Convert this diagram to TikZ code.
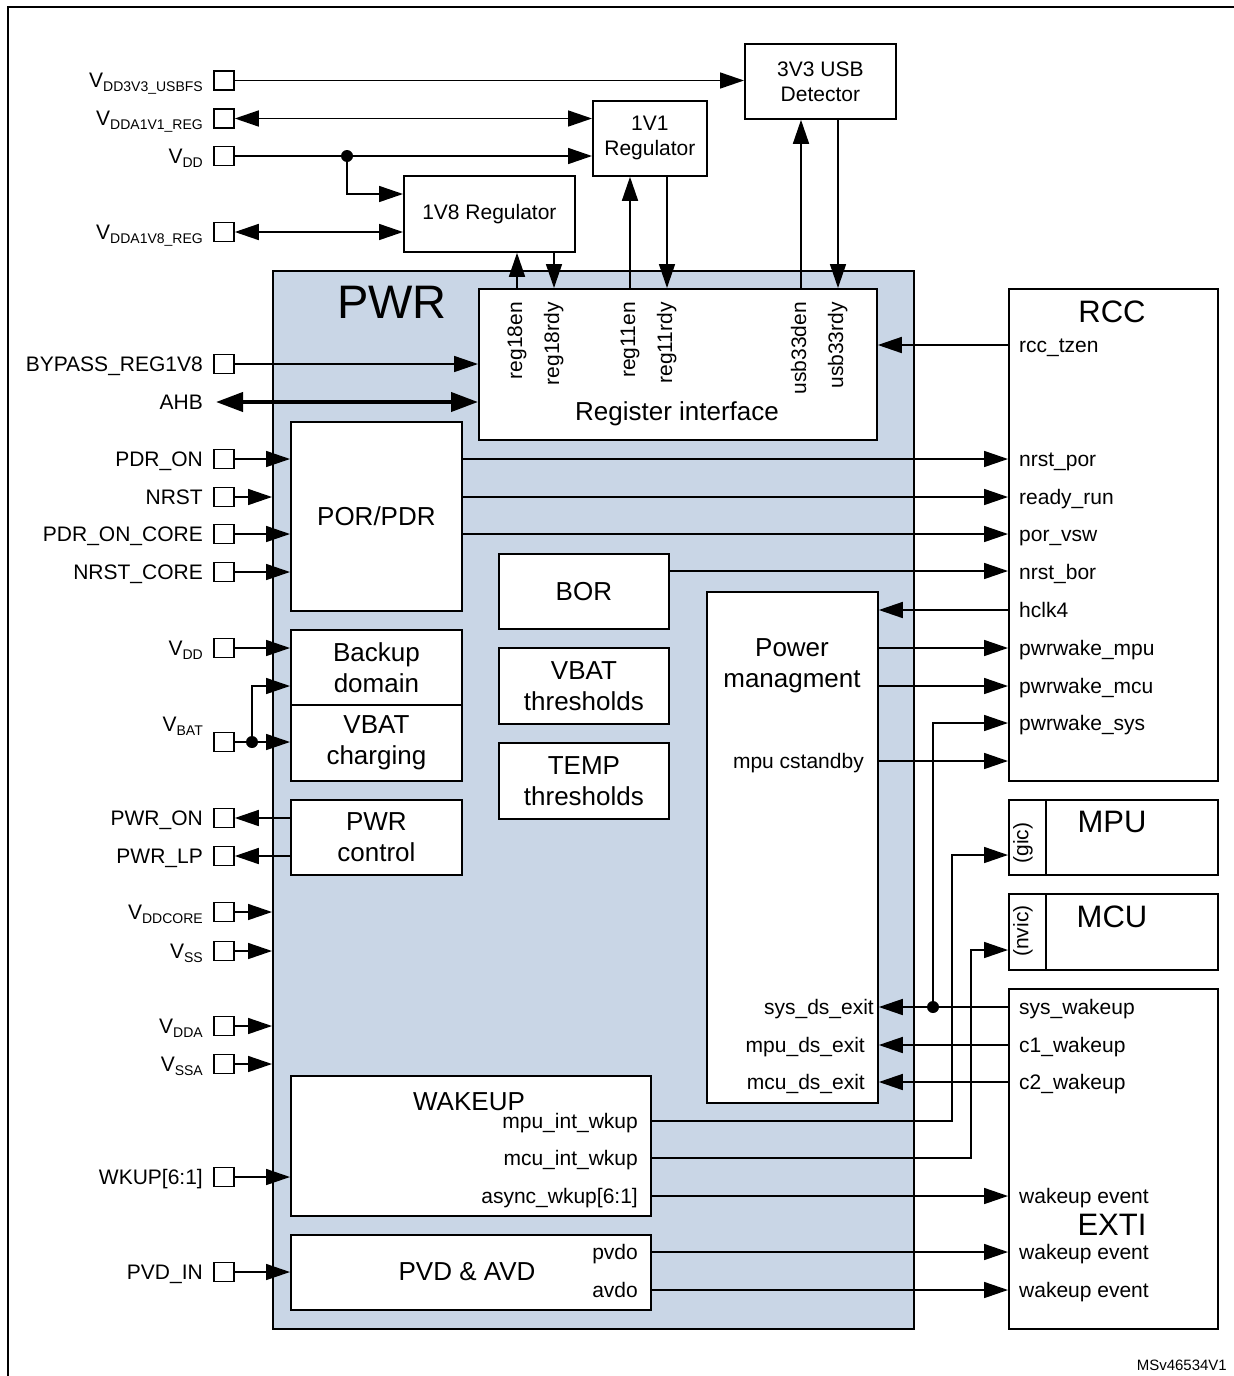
\documentclass[tikz,border=0pt]{standalone}
\usepackage{fontspec}
\setmainfont{Liberation Sans}
\usetikzlibrary{arrows.meta}
\definecolor{pwrblue}{RGB}{201,214,230}
\newcommand{\vsub}[1]{V\raisebox{-4pt}{\fontsize{14}{14}\selectfont #1}}
\begin{document}
\begin{tikzpicture}[x=1pt,y=1pt,
  blk/.style={draw,line width=1.8pt,fill=white,inner sep=0pt,anchor=north west},
  ln/.style={line width=1.6pt},
  tip/.style={-{Triangle[length=24pt,width=16pt]}},
  dtip/.style={{Triangle[length=24pt,width=16pt]}-{Triangle[length=24pt,width=16pt]}},
  ahbtip/.style={{Triangle[length=27pt,width=19pt]}-{Triangle[length=27pt,width=19pt]}},
  pin/.style={draw,line width=1.6pt,fill=white,minimum width=20pt,minimum height=19pt,inner sep=0pt},
  lbl/.style={inner sep=0pt,font=\fontsize{21}{25}\selectfont},
  ttl/.style={inner sep=0pt,align=center,font=\fontsize{26}{31}\selectfont},
  sttl/.style={inner sep=0pt,align=center,font=\fontsize{21}{25}\selectfont},
  bigt/.style={inner sep=0pt,font=\fontsize{31}{36}\selectfont},
  jdot/.style={circle,fill,inner sep=0pt,minimum size=12pt}]
\useasboundingbox (0,0) rectangle (1234,-1376);
\fill[white] (0,0) rectangle (1234,-1376);
\draw[line width=2.2pt] (8,-1390) -- (8,-7) -- (1250,-7);

% ---------- blocks ----------
\node[blk,fill=pwrblue,minimum width=641pt,minimum height=1058pt] (pwr) at (272,-270) {};
\node[blk,minimum width=151pt,minimum height=75pt] (usb) at (744,-43) {};
\node[blk,minimum width=114pt,minimum height=75pt] (r11) at (592,-100) {};
\node[blk,minimum width=171pt,minimum height=76pt] (r18) at (403,-175) {};
\node[blk,minimum width=398pt,minimum height=151pt] (reg) at (478,-288) {};
\node[blk,minimum width=171pt,minimum height=189pt] (por) at (290,-421) {};
\node[blk,minimum width=171pt,minimum height=75pt] (bkp) at (290,-629) {};
\node[blk,minimum width=171pt,minimum height=76pt] (vch) at (290,-704) {};
\node[blk,minimum width=171pt,minimum height=75pt] (pct) at (290,-799) {};
\node[blk,minimum width=170pt,minimum height=75pt] (bor) at (498,-553) {};
\node[blk,minimum width=170pt,minimum height=76pt] (vth) at (498,-647) {};
\node[blk,minimum width=170pt,minimum height=76pt] (tth) at (498,-742) {};
\node[blk,minimum width=171pt,minimum height=511pt] (pm) at (706,-591) {};
\node[blk,minimum width=360pt,minimum height=140pt] (wk) at (290,-1075) {};
\node[blk,minimum width=360pt,minimum height=75pt] (pvd) at (290,-1234) {};
\node[blk,minimum width=209pt,minimum height=492pt] (rcc) at (1008,-288) {};
\node[blk,minimum width=209pt,minimum height=75pt] (mpu) at (1008,-799) {};
\node[blk,minimum width=209pt,minimum height=76pt] (mcu) at (1008,-893) {};
\node[blk,minimum width=209pt,minimum height=340pt] (exti) at (1008,-988) {};
\draw[line width=1.8pt] (mpu.north -| 1046,0) -- (mpu.south -| 1046,0);
\draw[line width=1.8pt] (mcu.north -| 1046,0) -- (mcu.south -| 1046,0);

% ---------- block titles ----------
\node[inner sep=0pt,font=\fontsize{47}{50}\selectfont] (tpwr) at (392,-302) {PWR};
\node[sttl] (tusb) at (usb.center) {3V3 USB\\Detector};
\node[sttl] (tr11) at (r11.center) {1V1\\Regulator};
\node[sttl] (tr18) at (r18.center) {1V8 Regulator};
\node[ttl,anchor=base] (treg) at (677,-420) {Register interface};
\node[ttl] (tpor) at (por.center) {POR/PDR};
\node[ttl] (tbkp) at (bkp.center) {Backup\\domain};
\node[ttl] (tvch) at (vch.center) {VBAT\\charging};
\node[ttl] (tpct) at (pct.center) {PWR\\control};
\node[ttl] (tbor) at (bor.center) {BOR};
\node[ttl] (tvth) at (vth.center) {VBAT\\thresholds};
\node[ttl] (ttth) at (tth.center) {TEMP\\thresholds};
\node[ttl] (tpm) at (792,-666) {Power\\managment};
\node[ttl,anchor=base] (twk) at (469,-1110) {WAKEUP};
\node[ttl] (tpvd) at (467,-1272) {PVD \& AVD};
\node[bigt] (trcc) at (1112,-312) {RCC};
\node[bigt] (tmpu) at (1112,-822) {MPU};
\node[bigt] (tmcu) at (1112,-917) {MCU};
\node[bigt] (texti) at (1112,-1225) {EXTI};
\node[lbl,rotate=90] (tgic) at (1023,-843) {(gic)};
\node[lbl,rotate=90] (tnvic) at (1023,-931) {(nvic)};

% ---------- pins ----------
\node[pin] (p3v3) at (224,-80.5) {};
\node[pin] (p1v1) at (224,-118.5) {};
\node[pin] (pvdd) at (224,-156) {};
\node[pin] (p1v8) at (224,-232) {};
\node[pin] (pbyp) at (224,-364) {};
\node[pin] (ppdr) at (224,-459) {};
\node[pin] (pnrst) at (224,-497) {};
\node[pin] (ppdrc) at (224,-534) {};
\node[pin] (pnrstc) at (224,-572) {};
\node[pin] (pvdd2) at (224,-648) {};
\node[pin] (pbat) at (224,-742) {};
\node[pin] (ppon) at (224,-818) {};
\node[pin] (pplp) at (224,-856) {};
\node[pin] (pcore) at (224,-912) {};
\node[pin] (pvss) at (224,-951) {};
\node[pin] (pvdda) at (224,-1026) {};
\node[pin] (pvssa) at (224,-1064) {};
\node[pin] (pwkup) at (224,-1177) {};
\node[pin] (ppvd) at (224,-1272) {};
\coordinate (ahbl) at (216,-402);

% ---------- pin labels ----------
\node[lbl,anchor=base east] at (203,-87.5) {\vsub{DD3V3\_USBFS}};
\node[lbl,anchor=base east] at (203,-125.5) {\vsub{DDA1V1\_REG}};
\node[lbl,anchor=base east] at (203,-163) {\vsub{DD}};
\node[lbl,anchor=base east] at (203,-239) {\vsub{DDA1V8\_REG}};
\node[lbl,anchor=base east] at (203,-371.5) {BYPASS\_REG1V8};
\node[lbl,anchor=base east] at (203,-409.5) {AHB};
\node[lbl,anchor=base east] at (203,-466.5) {PDR\_ON};
\node[lbl,anchor=base east] at (203,-504.5) {NRST};
\node[lbl,anchor=base east] at (203,-541.5) {PDR\_ON\_CORE};
\node[lbl,anchor=base east] at (203,-579.5) {NRST\_CORE};
\node[lbl,anchor=base east] at (203,-655) {\vsub{DD}};
\node[lbl,anchor=base east] at (203,-731) {\vsub{BAT}};
\node[lbl,anchor=base east] at (203,-825.5) {PWR\_ON};
\node[lbl,anchor=base east] at (203,-863.5) {PWR\_LP};
\node[lbl,anchor=base east] at (203,-919) {\vsub{DDCORE}};
\node[lbl,anchor=base east] at (203,-958) {\vsub{SS}};
\node[lbl,anchor=base east] at (203,-1033) {\vsub{DDA}};
\node[lbl,anchor=base east] at (203,-1071) {\vsub{SSA}};
\node[lbl,anchor=base east] at (203,-1184.5) {WKUP[6:1]};
\node[lbl,anchor=base east] at (203,-1279.5) {PVD\_IN};

% ---------- register interface labels ----------
\node[lbl,rotate=90,anchor=base east] at (522,-302) {reg18en};
\node[lbl,rotate=90,anchor=base east] at (559,-302) {reg18rdy};
\node[lbl,rotate=90,anchor=base east] at (635,-302) {reg11en};
\node[lbl,rotate=90,anchor=base east] at (672,-302) {reg11rdy};
\node[lbl,rotate=90,anchor=base east] at (806,-302) {usb33den};
\node[lbl,rotate=90,anchor=base east] at (843,-302) {usb33rdy};

% ---------- RCC labels ----------
\node[lbl,anchor=base west] at (1019,-352.5) {rcc\_tzen};
\node[lbl,anchor=base west] at (1019,-466.5) {nrst\_por};
\node[lbl,anchor=base west] at (1019,-504.5) {ready\_run};
\node[lbl,anchor=base west] at (1019,-541.5) {por\_vsw};
\node[lbl,anchor=base west] at (1019,-579) {nrst\_bor};
\node[lbl,anchor=base west] at (1019,-617.5) {hclk4};
\node[lbl,anchor=base west] at (1019,-655.5) {pwrwake\_mpu};
\node[lbl,anchor=base west] at (1019,-693.5) {pwrwake\_mcu};
\node[lbl,anchor=base west] at (1019,-730.5) {pwrwake\_sys};

% ---------- EXTI labels ----------
\node[lbl,anchor=base west] at (1019,-1014.5) {sys\_wakeup};
\node[lbl,anchor=base west] at (1019,-1052) {c1\_wakeup};
\node[lbl,anchor=base west] at (1019,-1089.5) {c2\_wakeup};
\node[lbl,anchor=base west] at (1019,-1203.5) {wakeup event};
\node[lbl,anchor=base west] at (1019,-1259.5) {wakeup event};
\node[lbl,anchor=base west] at (1019,-1297.5) {wakeup event};

% ---------- PM labels ----------
\node[lbl,anchor=base east] at (864,-768.5) {mpu cstandby};
\node[lbl,anchor=base east] at (874,-1014.5) {sys\_ds\_exit};
\node[lbl,anchor=base east] at (865,-1052) {mpu\_ds\_exit};
\node[lbl,anchor=base east] at (865,-1089.5) {mcu\_ds\_exit};

% ---------- WAKEUP / PVD labels ----------
\node[lbl,anchor=base east] at (638,-1128.5) {mpu\_int\_wkup};
\node[lbl,anchor=base east] at (638,-1165.5) {mcu\_int\_wkup};
\node[lbl,anchor=base east] at (638,-1203.5) {async\_wkup[6:1]};
\node[lbl,anchor=base east] at (638,-1259.5) {pvdo};
\node[lbl,anchor=base east] at (638,-1297.5) {avdo};

% ---------- top connectors ----------
\draw[ln,tip] (p3v3.east) -- (usb.west |- p3v3.east);
\draw[ln,dtip] (p1v1.east) -- (r11.west |- p1v1.east);
\draw[ln,tip] (pvdd.east) -- (r11.west |- pvdd.east);
\node[jdot] (jvdd) at (347,-156) {};
\draw[ln,tip] (jvdd.center) |- (r18.west |- 0,-194);
\draw[ln,dtip] (p1v8.east) -- (r18.west |- p1v8.east);
\draw[ln,tip] (reg.north -| 517,0) -- (r18.south -| 517,0);
\draw[ln,tip] (r18.south -| 554,0) -- (reg.north -| 554,0);
\draw[ln,tip] (reg.north -| 630,0) -- (r11.south -| 630,0);
\draw[ln,tip] (r11.south -| 667,0) -- (reg.north -| 667,0);
\draw[ln,tip] (reg.north -| 801,0) -- (usb.south -| 801,0);
\draw[ln,tip] (usb.south -| 838,0) -- (reg.north -| 838,0);

% ---------- left connectors ----------
\draw[ln,tip] (pbyp.east) -- (reg.west |- pbyp.east);
\draw[line width=4pt,ahbtip] (ahbl) -- (reg.west |- ahbl);
\draw[ln,tip] (ppdr.east) -- (por.west |- ppdr.east);
\draw[ln,tip] (pnrst.east) -- (pwr.west |- pnrst.east);
\draw[ln,tip] (ppdrc.east) -- (por.west |- ppdrc.east);
\draw[ln,tip] (pnrstc.east) -- (por.west |- pnrstc.east);
\draw[ln,tip] (pvdd2.east) -- (bkp.west |- pvdd2.east);
\node[jdot] (jbat) at (252,-742) {};
\draw[ln,tip] (pbat.east) -- (vch.west |- pbat.east);
\draw[ln,tip] (jbat.center) |- (bkp.west |- 0,-686);
\draw[ln,tip] (pct.west |- ppon.east) -- (ppon.east);
\draw[ln,tip] (pct.west |- pplp.east) -- (pplp.east);
\draw[ln,tip] (pcore.east) -- (pwr.west |- pcore.east);
\draw[ln,tip] (pvss.east) -- (pwr.west |- pvss.east);
\draw[ln,tip] (pvdda.east) -- (pwr.west |- pvdda.east);
\draw[ln,tip] (pvssa.east) -- (pwr.west |- pvssa.east);
\draw[ln,tip] (pwkup.east) -- (wk.west |- pwkup.east);
\draw[ln,tip] (ppvd.east) -- (pvd.west |- ppvd.east);

% ---------- right connectors ----------
\draw[ln,tip] (rcc.west |- 0,-345) -- (reg.east |- 0,-345);
\draw[ln,tip] (por.east |- 0,-459) -- (rcc.west |- 0,-459);
\draw[ln,tip] (por.east |- 0,-497) -- (rcc.west |- 0,-497);
\draw[ln,tip] (por.east |- 0,-534) -- (rcc.west |- 0,-534);
\draw[ln,tip] (bor.east |- 0,-571) -- (rcc.west |- 0,-571);
\draw[ln,tip] (rcc.west |- 0,-610) -- (pm.east |- 0,-610);
\draw[ln,tip] (pm.east |- 0,-648) -- (rcc.west |- 0,-648);
\draw[ln,tip] (pm.east |- 0,-686) -- (rcc.west |- 0,-686);
\draw[ln,tip] (pm.east |- 0,-761) -- (rcc.west |- 0,-761);
\node[jdot] (jsys) at (933,-1007) {};
\draw[ln,tip] (exti.west |- 0,-1007) -- (pm.east |- 0,-1007);
\draw[ln,tip] (jsys.center) |- (rcc.west |- 0,-723);
\draw[ln,tip] (exti.west |- 0,-1045) -- (pm.east |- 0,-1045);
\draw[ln,tip] (exti.west |- 0,-1082) -- (pm.east |- 0,-1082);
\coordinate (bgic) at (952,-855);
\coordinate (bnvic) at (971,-950);
\draw[ln,tip] (wk.east |- 0,-1121) -| (bgic) -- (mpu.west |- bgic);
\draw[ln,tip] (wk.east |- 0,-1158) -| (bnvic) -- (mcu.west |- bnvic);
\draw[ln,tip] (wk.east |- 0,-1196) -- (exti.west |- 0,-1196);
\draw[ln,tip] (pvd.east |- 0,-1252) -- (exti.west |- 0,-1252);
\draw[ln,tip] (pvd.east |- 0,-1290) -- (exti.west |- 0,-1290);

\node[inner sep=0pt,anchor=base east,font=\fontsize{15}{18}\selectfont] (tid) at (1227,-1370) {MSv46534V1};
\end{tikzpicture}
\end{document}
